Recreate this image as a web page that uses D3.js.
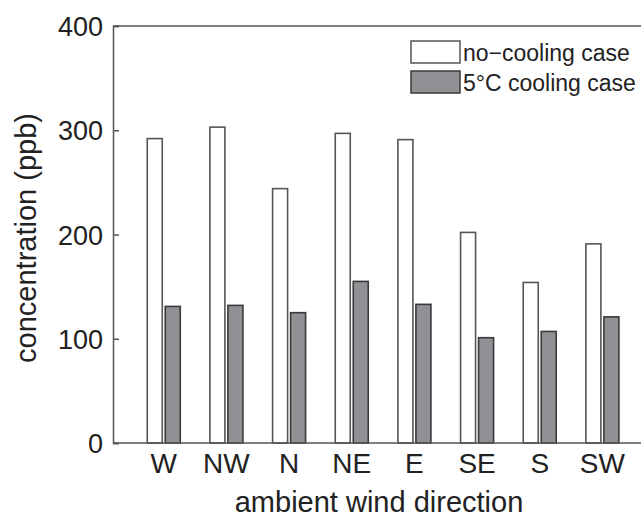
<!DOCTYPE html>
<html>
<head>
<style>
body { margin: 0; background: #fff; }
text { font-family: "Liberation Sans", Arial, sans-serif; fill: #222; }
</style>
<script src="https://d3js.org/d3.v7.min.js"></script>
</head>
<body>
<svg id="chart" width="641" height="518"></svg>
<script>
var directions = ["W", "NW", "N", "NE", "E", "SE", "S", "SW"];
var noCooling = [292, 303, 244, 297, 291, 202, 154, 191];
var cooling5 = [131, 132, 125, 155, 133, 101, 107, 121];
var yTicks = [0, 100, 200, 300, 400];
var legendLabels = ["no\u2212cooling case", "5\u00B0C cooling case"];

var svg = d3.select("#chart");

var plotL = 113, plotR = 641, plotT = 26, plotB = 443;

// index based x, like the original plot (categories at 1..8)
var x = d3.scaleLinear().domain([0.19, 8.6]).range([plotL, 640]);
var y = d3.scaleLinear().domain([0, 400]).range([plotB, plotT]);

var bw = 15;

// white bars
svg.append("g").selectAll("rect")
	.data(noCooling)
	.join("rect")
	.attr("x", function(d, i) { return x(i + 1) - bw - 1.5; })
	.attr("y", function(d) { return y(d); })
	.attr("width", bw)
	.attr("height", function(d) { return plotB - y(d); })
	.attr("fill", "#fff")
	.attr("stroke", "#555")
	.attr("stroke-width", 1.6);

// grey bars
svg.append("g").selectAll("rect")
	.data(cooling5)
	.join("rect")
	.attr("x", function(d, i) { return x(i + 1) + 1.5; })
	.attr("y", function(d) { return y(d); })
	.attr("width", bw)
	.attr("height", function(d) { return plotB - y(d); })
	.attr("fill", "#909095")
	.attr("stroke", "#3a3a3a")
	.attr("stroke-width", 1.6);

// frame
svg.append("line")
	.attr("x1", plotL).attr("x2", plotR).attr("y1", plotT).attr("y2", plotT)
	.attr("stroke", "#555").attr("stroke-width", 1.5);
svg.append("line")
	.attr("x1", plotL).attr("x2", plotR).attr("y1", plotB).attr("y2", plotB)
	.attr("stroke", "#555").attr("stroke-width", 1.5);

// y axis, ticks inside
var yAxis = d3.axisRight(y).tickValues(yTicks).tickSize(6).tickFormat("");
var ya = svg.append("g").attr("transform", "translate(" + plotL + ",0)").call(yAxis);
ya.select(".domain").attr("stroke", "#555").attr("stroke-width", 1.5);
ya.selectAll(".tick line").attr("stroke", "#555").attr("stroke-width", 1.5);

svg.append("g").selectAll("text")
	.data(yTicks)
	.join("text")
	.attr("x", 103)
	.attr("y", function(d) { return y(d) + 10; })
	.attr("text-anchor", "end")
	.style("font-size", "27px")
	.text(function(d) { return d; });

// x labels
svg.append("g").selectAll("text")
	.data(directions)
	.join("text")
	.attr("x", function(d, i) { return x(i + 1); })
	.attr("y", 473)
	.attr("text-anchor", "middle")
	.style("font-size", "28px")
	.text(function(d) { return d; });

svg.append("text")
	.attr("x", 379)
	.attr("y", 512)
	.attr("text-anchor", "middle")
	.style("font-size", "29px")
	.text("ambient wind direction");

svg.append("text")
	.attr("transform", "translate(36,238) rotate(-90)")
	.attr("text-anchor", "middle")
	.style("font-size", "29px")
	.text("concentration (ppb)");

// legend
var legFill = ["#fff", "#909095"];
var legStroke = ["#555", "#3a3a3a"];
var leg = svg.append("g").selectAll("g")
	.data(legendLabels)
	.join("g")
	.attr("transform", function(d, i) { return "translate(411," + (41 + i * 30) + ")"; });
leg.append("rect")
	.attr("width", 49).attr("height", 22)
	.attr("fill", function(d, i) { return legFill[i]; })
	.attr("stroke", function(d, i) { return legStroke[i]; })
	.attr("stroke-width", 1.5);
leg.append("text")
	.attr("x", 52)
	.attr("y", 20)
	.style("font-size", "23px")
	.text(function(d) { return d; });
</script>
</body>
</html>
